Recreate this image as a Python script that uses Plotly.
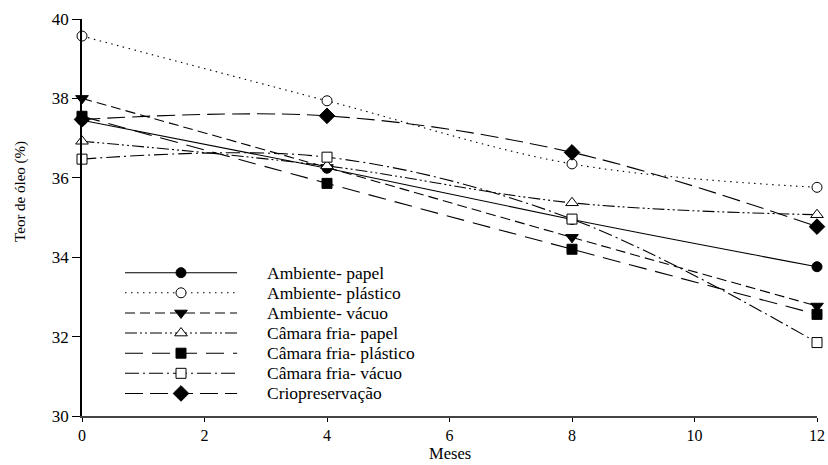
import plotly.graph_objects as go

# Storage time (months)
meses = [0, 4, 8, 12]

# Oil content (%) per storage condition
ambiente_papel = [37.45, 36.24, 34.95, 33.76]
ambiente_plastico = [39.57, 37.94, 36.35, 35.76]
ambiente_vacuo = [38.00, 36.26, 34.50, 32.77]
camara_papel = [36.92, 36.30, 35.37, 35.07]
camara_plastico = [37.55, 35.86, 34.20, 32.56]
camara_vacuo = [36.47, 36.52, 34.96, 31.85]
criopreservacao = [37.47, 37.56, 36.64, 34.77]

nomes = [
    "Ambiente- papel",
    "Ambiente- plástico",
    "Ambiente- vácuo",
    "Câmara fria- papel",
    "Câmara fria- plástico",
    "Câmara fria- vácuo",
    "Criopreservação",
]
valores = [ambiente_papel, ambiente_plastico, ambiente_vacuo, camara_papel,
           camara_plastico, camara_vacuo, criopreservacao]

# Line/marker style for each condition
estilos = [
    dict(dash="solid", symbol="circle", fill="black", size=10),
    dict(dash="1.5px,4.5px", symbol="circle", fill="white", size=10),
    dict(dash="10px,5px", symbol="triangle-down", fill="black", size=11),
    dict(dash="12px,3px,2px,3px,2px,3px", symbol="triangle-up", fill="white", size=11),
    dict(dash="18px,9px", symbol="square", fill="black", size=10),
    dict(dash="14px,4px,2px,4px", symbol="square", fill="white", size=10),
    dict(dash="18px,7px", symbol="diamond", fill="black", size=12),
]

FONTE = "Liberation Serif, Times New Roman, serif"

fig = go.Figure()

for nome, ys, est in zip(nomes, valores, estilos):
    fig.add_trace(go.Scatter(
        x=meses, y=ys, name=nome, mode="lines+markers",
        line=dict(color="black", width=1.1, dash=est["dash"], shape="spline", smoothing=1.0),
        marker=dict(symbol=est["symbol"], size=est["size"], color=est["fill"],
                    line=dict(color="black", width=1)),
        cliponaxis=False, showlegend=False,
    ))

# Hand-drawn legend in a 0..1 overlay frame (long line samples)
leg_x0, leg_x1, leg_xm, leg_xt = 0.0585, 0.211, 0.1347, 0.249
leg_y_top, leg_dy = 0.361, 0.0507
for i, (nome, est) in enumerate(zip(nomes, estilos)):
    yy = leg_y_top - i * leg_dy
    fig.add_trace(go.Scatter(
        x=[leg_x0, leg_x1], y=[yy, yy], mode="lines", xaxis="x2", yaxis="y2",
        line=dict(color="black", width=1.1, dash=est["dash"]),
        showlegend=False, hoverinfo="skip",
    ))
    fig.add_trace(go.Scatter(
        x=[leg_xm], y=[yy], mode="markers", xaxis="x2", yaxis="y2",
        marker=dict(symbol=est["symbol"], size=est["size"], color=est["fill"],
                    line=dict(color="black", width=1)),
        showlegend=False, hoverinfo="skip",
    ))
    fig.add_annotation(x=leg_xt, y=yy, xref="paper", yref="paper", text=nome,
                       showarrow=False, xanchor="left", yanchor="middle",
                       font=dict(family=FONTE, size=17.5, color="black"))

# Axis titles placed as free text beside the axes
fig.add_annotation(x=-0.083, y=0.567, xref="paper", yref="paper",
                   text="Teor de óleo (%)", textangle=-90, showarrow=False,
                   xanchor="center", yanchor="middle",
                   font=dict(family=FONTE, size=15, color="black"))
fig.add_annotation(x=0.5, y=-0.1209, xref="paper", yref="paper",
                   text="Meses", showarrow=False, borderpad=0,
                   xanchor="center", yanchor="bottom",
                   font=dict(family=FONTE, size=16.5, color="black"))

fig.update_layout(
    width=828, height=465,
    margin=dict(l=82, r=11, t=19, b=49),
    plot_bgcolor="white", paper_bgcolor="white",
    font=dict(family=FONTE, size=16, color="black"),
    xaxis=dict(
        range=[0, 12], tickvals=[0, 2, 4, 6, 8, 10, 12], automargin=False,
        showgrid=False, zeroline=False, showline=True, linecolor="#444", linewidth=1.5,
        ticks="outside", ticklen=4, tickcolor="black", tickwidth=1,
        tickfont=dict(family=FONTE, size=16),
    ),
    yaxis=dict(
        range=[30, 40], tickvals=[30, 32, 34, 36, 38, 40], automargin=False,
        showgrid=False, zeroline=False, showline=True, linecolor="black", linewidth=1.5,
        ticks="outside", ticklen=8, tickcolor="black", tickwidth=1,
        tickfont=dict(family=FONTE, size=17),
    ),
    xaxis2=dict(range=[0, 1], overlaying="x", visible=False),
    yaxis2=dict(range=[0, 1], overlaying="y", visible=False),
)

fig.write_html("out.html")
